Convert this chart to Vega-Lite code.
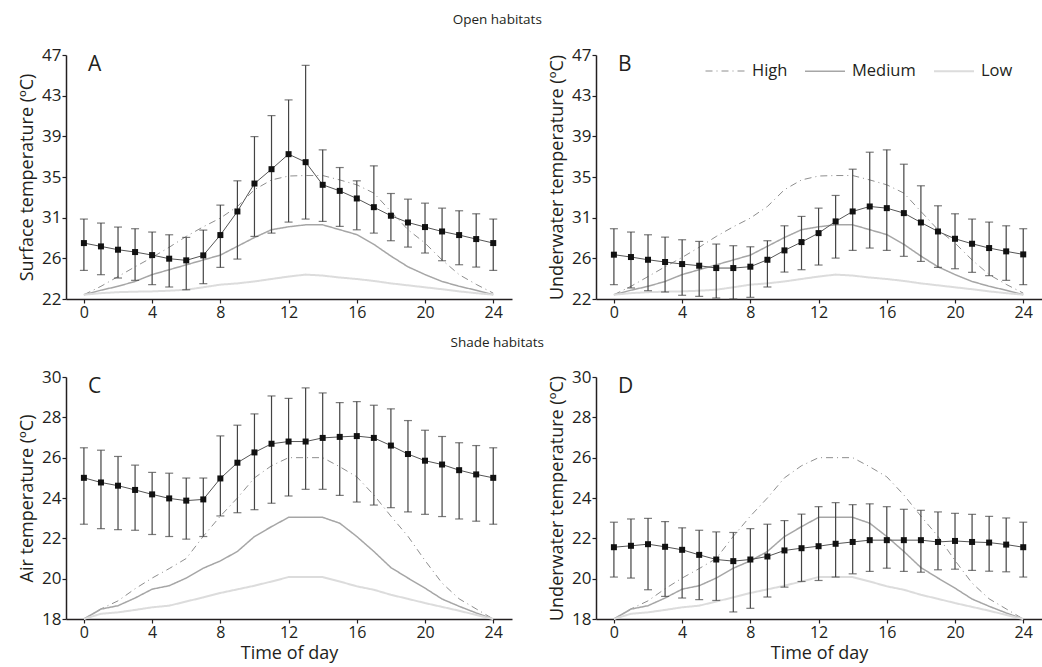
{
  "$schema": "https://vega.github.io/schema/vega-lite/v6.json",
  "autosize": {"type": "pad"},
  "padding": {"left": 18, "top": 12, "right": 1, "bottom": 5},
  "background": "white",
  "config": {
    "font": "Open Sans",
    "view": {"stroke": null},
    "axis": {"domainColor": "#231f20", "domainWidth": 1.5, "tickColor": "#231f20", "tickSize": 4, "tickWidth": 1.2, "labelColor": "#231f20", "labelFontSize": 17, "labelFont": "Open Sans", "titleColor": "#231f20", "titleFontSize": 18, "titleFont": "Open Sans", "titleFontWeight": "normal", "grid": false, "labelOverlap": false},
    "axisX": {"labelFontSize": 16, "labelOverlap": false, "labelSeparation": -40, "labelFlush": false},
    "title": {"font": "Open Sans", "fontWeight": "normal", "color": "#231f20"},
    "legend": {"labelFont": "Open Sans", "labelFontSize": 16.5, "labelColor": "#231f20"}
  },
  "datasets": {
    "ref_open": [
      {"series":"High","hour":0,"temp":22.44},{"series":"High","hour":1,"temp":23.3},{"series":"High","hour":2,"temp":24.3},{"series":"High","hour":3,"temp":25.3},{"series":"High","hour":4,"temp":26.26},{"series":"High","hour":5,"temp":27.3},{"series":"High","hour":6,"temp":28.41},{"series":"High","hour":7,"temp":29.4},{"series":"High","hour":8,"temp":30.29},{"series":"High","hour":9,"temp":31.48},{"series":"High","hour":10,"temp":33.2},{"series":"High","hour":11,"temp":34.2},{"series":"High","hour":12,"temp":34.6},{"series":"High","hour":13,"temp":34.65},{"series":"High","hour":14,"temp":34.65},{"series":"High","hour":15,"temp":34.2},{"series":"High","hour":16,"temp":33.7},{"series":"High","hour":17,"temp":32.85},{"series":"High","hour":18,"temp":30.97},{"series":"High","hour":19,"temp":29.1},{"series":"High","hour":20,"temp":27.73},{"series":"High","hour":21,"temp":26.0},{"series":"High","hour":22,"temp":24.5},{"series":"High","hour":23,"temp":23.5},{"series":"High","hour":24,"temp":22.6},
      {"series":"Medium","hour":0,"temp":22.44},{"series":"Medium","hour":1,"temp":22.9},{"series":"Medium","hour":2,"temp":23.3},{"series":"Medium","hour":3,"temp":23.8},{"series":"Medium","hour":4,"temp":24.5},{"series":"Medium","hour":5,"temp":25.0},{"series":"Medium","hour":6,"temp":25.5},{"series":"Medium","hour":7,"temp":26.0},{"series":"Medium","hour":8,"temp":26.5},{"series":"Medium","hour":9,"temp":27.4},{"series":"Medium","hour":10,"temp":28.3},{"series":"Medium","hour":11,"temp":29.1},{"series":"Medium","hour":12,"temp":29.4},{"series":"Medium","hour":13,"temp":29.6},{"series":"Medium","hour":14,"temp":29.6},{"series":"Medium","hour":15,"temp":29.1},{"series":"Medium","hour":16,"temp":28.6},{"series":"Medium","hour":17,"temp":27.6},{"series":"Medium","hour":18,"temp":26.4},{"series":"Medium","hour":19,"temp":25.3},{"series":"Medium","hour":20,"temp":24.5},{"series":"Medium","hour":21,"temp":23.8},{"series":"Medium","hour":22,"temp":23.3},{"series":"Medium","hour":23,"temp":22.9},{"series":"Medium","hour":24,"temp":22.44},
      {"series":"Low","hour":0,"temp":22.44},{"series":"Low","hour":1,"temp":22.6},{"series":"Low","hour":2,"temp":22.7},{"series":"Low","hour":3,"temp":22.75},{"series":"Low","hour":4,"temp":22.78},{"series":"Low","hour":5,"temp":22.85},{"series":"Low","hour":6,"temp":22.95},{"series":"Low","hour":7,"temp":23.2},{"series":"Low","hour":8,"temp":23.47},{"series":"Low","hour":9,"temp":23.6},{"series":"Low","hour":10,"temp":23.8},{"series":"Low","hour":11,"temp":24.05},{"series":"Low","hour":12,"temp":24.3},{"series":"Low","hour":13,"temp":24.5},{"series":"Low","hour":14,"temp":24.4},{"series":"Low","hour":15,"temp":24.2},{"series":"Low","hour":16,"temp":24.05},{"series":"Low","hour":17,"temp":23.85},{"series":"Low","hour":18,"temp":23.6},{"series":"Low","hour":19,"temp":23.4},{"series":"Low","hour":20,"temp":23.2},{"series":"Low","hour":21,"temp":23.0},{"series":"Low","hour":22,"temp":22.78},{"series":"Low","hour":23,"temp":22.6},{"series":"Low","hour":24,"temp":22.44}
    ],
    "ref_shade": [
      {"series":"High","hour":0,"temp":18.0},{"series":"High","hour":1,"temp":18.5},{"series":"High","hour":2,"temp":18.9},{"series":"High","hour":3,"temp":19.5},{"series":"High","hour":4,"temp":20.03},{"series":"High","hour":5,"temp":20.5},{"series":"High","hour":6,"temp":21.0},{"series":"High","hour":7,"temp":22.1},{"series":"High","hour":8,"temp":23.1},{"series":"High","hour":9,"temp":24.0},{"series":"High","hour":10,"temp":25.0},{"series":"High","hour":11,"temp":25.6},{"series":"High","hour":12,"temp":26.0},{"series":"High","hour":13,"temp":26.0},{"series":"High","hour":14,"temp":26.0},{"series":"High","hour":15,"temp":25.55},{"series":"High","hour":16,"temp":25.05},{"series":"High","hour":17,"temp":24.15},{"series":"High","hour":18,"temp":23.1},{"series":"High","hour":19,"temp":22.1},{"series":"High","hour":20,"temp":20.9},{"series":"High","hour":21,"temp":19.78},{"series":"High","hour":22,"temp":19.0},{"series":"High","hour":23,"temp":18.5},{"series":"High","hour":24,"temp":18.0},
      {"series":"Medium","hour":0,"temp":18.0},{"series":"Medium","hour":1,"temp":18.49},{"series":"Medium","hour":2,"temp":18.66},{"series":"Medium","hour":3,"temp":19.04},{"series":"Medium","hour":4,"temp":19.48},{"series":"Medium","hour":5,"temp":19.65},{"series":"Medium","hour":6,"temp":20.03},{"series":"Medium","hour":7,"temp":20.52},{"series":"Medium","hour":8,"temp":20.88},{"series":"Medium","hour":9,"temp":21.35},{"series":"Medium","hour":10,"temp":22.09},{"series":"Medium","hour":11,"temp":22.58},{"series":"Medium","hour":12,"temp":23.04},{"series":"Medium","hour":13,"temp":23.04},{"series":"Medium","hour":14,"temp":23.04},{"series":"Medium","hour":15,"temp":22.75},{"series":"Medium","hour":16,"temp":22.09},{"series":"Medium","hour":17,"temp":21.35},{"series":"Medium","hour":18,"temp":20.55},{"series":"Medium","hour":19,"temp":20.03},{"series":"Medium","hour":20,"temp":19.53},{"series":"Medium","hour":21,"temp":18.99},{"series":"Medium","hour":22,"temp":18.63},{"series":"Medium","hour":23,"temp":18.3},{"series":"Medium","hour":24,"temp":18.0},
      {"series":"Low","hour":0,"temp":18.0},{"series":"Low","hour":1,"temp":18.26},{"series":"Low","hour":2,"temp":18.33},{"series":"Low","hour":3,"temp":18.45},{"series":"Low","hour":4,"temp":18.58},{"series":"Low","hour":5,"temp":18.66},{"series":"Low","hour":6,"temp":18.87},{"series":"Low","hour":7,"temp":19.07},{"series":"Low","hour":8,"temp":19.29},{"series":"Low","hour":9,"temp":19.47},{"series":"Low","hour":10,"temp":19.65},{"series":"Low","hour":11,"temp":19.86},{"series":"Low","hour":12,"temp":20.08},{"series":"Low","hour":13,"temp":20.08},{"series":"Low","hour":14,"temp":20.08},{"series":"Low","hour":15,"temp":19.86},{"series":"Low","hour":16,"temp":19.62},{"series":"Low","hour":17,"temp":19.45},{"series":"Low","hour":18,"temp":19.2},{"series":"Low","hour":19,"temp":19.0},{"series":"Low","hour":20,"temp":18.79},{"series":"Low","hour":21,"temp":18.6},{"series":"Low","hour":22,"temp":18.41},{"series":"Low","hour":23,"temp":18.2},{"series":"Low","hour":24,"temp":18.0}
    ],
    "obs": [
      {"panel":"A","hour":0,"mean":27.73,"lo":24.93,"hi":30.19},{"panel":"A","hour":1,"mean":27.39,"lo":24.49,"hi":29.78},{"panel":"A","hour":2,"mean":27.05,"lo":24.15,"hi":29.37},{"panel":"A","hour":3,"mean":26.81,"lo":23.91,"hi":29.2},{"panel":"A","hour":4,"mean":26.5,"lo":23.47,"hi":28.86},{"panel":"A","hour":5,"mean":26.13,"lo":23.23,"hi":28.58},{"panel":"A","hour":6,"mean":25.96,"lo":22.95,"hi":28.31},{"panel":"A","hour":7,"mean":26.47,"lo":23.57,"hi":29.06},{"panel":"A","hour":8,"mean":28.55,"lo":25.24,"hi":31.62},{"panel":"A","hour":9,"mean":30.97,"lo":26.09,"hi":34.11},{"panel":"A","hour":10,"mean":33.83,"lo":28.41,"hi":38.64},{"panel":"A","hour":11,"mean":35.3,"lo":28.75,"hi":40.79},{"panel":"A","hour":12,"mean":36.84,"lo":29.88,"hi":42.4},{"panel":"A","hour":13,"mean":36.02,"lo":30.19,"hi":45.94},{"panel":"A","hour":14,"mean":33.7,"lo":29.95,"hi":37.28},{"panel":"A","hour":15,"mean":33.08,"lo":29.44,"hi":35.47},{"panel":"A","hour":16,"mean":32.3,"lo":29.09,"hi":34.11},{"panel":"A","hour":17,"mean":31.41,"lo":28.75,"hi":35.64},{"panel":"A","hour":18,"mean":30.53,"lo":27.97,"hi":32.81},{"panel":"A","hour":19,"mean":29.84,"lo":27.32,"hi":32.23},{"panel":"A","hour":20,"mean":29.37,"lo":26.71,"hi":31.82},{"panel":"A","hour":21,"mean":28.92,"lo":25.92,"hi":31.31},{"panel":"A","hour":22,"mean":28.55,"lo":25.51,"hi":31.04},{"panel":"A","hour":23,"mean":28.14,"lo":25.27,"hi":30.73},{"panel":"A","hour":24,"mean":27.73,"lo":24.93,"hi":30.19},
      {"panel":"B","hour":0,"mean":26.54,"lo":23.47,"hi":29.2},{"panel":"B","hour":1,"mean":26.3,"lo":23.13,"hi":28.86},{"panel":"B","hour":2,"mean":26.02,"lo":22.85,"hi":28.58},{"panel":"B","hour":3,"mean":25.79,"lo":22.72,"hi":28.34},{"panel":"B","hour":4,"mean":25.58,"lo":22.38,"hi":28.07},{"panel":"B","hour":5,"mean":25.41,"lo":22.27,"hi":27.9},{"panel":"B","hour":6,"mean":25.17,"lo":22.1,"hi":27.63},{"panel":"B","hour":7,"mean":25.17,"lo":22.0,"hi":27.46},{"panel":"B","hour":8,"mean":25.31,"lo":22.17,"hi":27.35},{"panel":"B","hour":9,"mean":26.02,"lo":23.23,"hi":27.97},{"panel":"B","hour":10,"mean":26.98,"lo":24.76,"hi":29.5},{"panel":"B","hour":11,"mean":27.83,"lo":25.0,"hi":30.46},{"panel":"B","hour":12,"mean":28.75,"lo":25.48,"hi":31.31},{"panel":"B","hour":13,"mean":29.95,"lo":26.19,"hi":32.61},{"panel":"B","hour":14,"mean":30.97,"lo":26.98,"hi":35.3},{"panel":"B","hour":15,"mean":31.48,"lo":27.22,"hi":37.04},{"panel":"B","hour":16,"mean":31.31,"lo":26.98,"hi":37.28},{"panel":"B","hour":17,"mean":30.8,"lo":26.37,"hi":35.81},{"panel":"B","hour":18,"mean":29.84,"lo":25.85,"hi":33.6},{"panel":"B","hour":19,"mean":28.92,"lo":25.24,"hi":31.55},{"panel":"B","hour":20,"mean":28.17,"lo":25.1,"hi":30.73},{"panel":"B","hour":21,"mean":27.66,"lo":24.73,"hi":30.19},{"panel":"B","hour":22,"mean":27.22,"lo":24.39,"hi":29.88},{"panel":"B","hour":23,"mean":26.88,"lo":23.91,"hi":29.5},{"panel":"B","hour":24,"mean":26.57,"lo":23.47,"hi":29.2},
      {"panel":"C","hour":0,"mean":25.0,"lo":22.7,"hi":26.49},{"panel":"C","hour":1,"mean":24.77,"lo":22.48,"hi":26.37},{"panel":"C","hour":2,"mean":24.61,"lo":22.43,"hi":26.06},{"panel":"C","hour":3,"mean":24.4,"lo":22.4,"hi":25.63},{"panel":"C","hour":4,"mean":24.18,"lo":22.19,"hi":25.27},{"panel":"C","hour":5,"mean":23.98,"lo":22.09,"hi":25.23},{"panel":"C","hour":6,"mean":23.87,"lo":21.96,"hi":24.99},{"panel":"C","hour":7,"mean":23.93,"lo":22.09,"hi":24.99},{"panel":"C","hour":8,"mean":24.97,"lo":23.11,"hi":27.08},{"panel":"C","hour":9,"mean":25.75,"lo":23.27,"hi":27.61},{"panel":"C","hour":10,"mean":26.26,"lo":23.42,"hi":28.17},{"panel":"C","hour":11,"mean":26.69,"lo":23.74,"hi":29.06},{"panel":"C","hour":12,"mean":26.8,"lo":24.1,"hi":28.94},{"panel":"C","hour":13,"mean":26.8,"lo":24.43,"hi":29.46},{"panel":"C","hour":14,"mean":26.98,"lo":24.43,"hi":29.21},{"panel":"C","hour":15,"mean":27.03,"lo":24.13,"hi":28.73},{"panel":"C","hour":16,"mean":27.07,"lo":23.8,"hi":28.78},{"panel":"C","hour":17,"mean":26.98,"lo":23.65,"hi":28.6},{"panel":"C","hour":18,"mean":26.6,"lo":23.52,"hi":28.42},{"panel":"C","hour":19,"mean":26.18,"lo":23.31,"hi":27.84},{"panel":"C","hour":20,"mean":25.85,"lo":23.19,"hi":27.36},{"panel":"C","hour":21,"mean":25.66,"lo":23.08,"hi":27.05},{"panel":"C","hour":22,"mean":25.38,"lo":22.96,"hi":26.74},{"panel":"C","hour":23,"mean":25.17,"lo":22.85,"hi":26.6},{"panel":"C","hour":24,"mean":25.0,"lo":22.7,"hi":26.49},
      {"panel":"D","hour":0,"mean":21.56,"lo":20.08,"hi":22.8},{"panel":"D","hour":1,"mean":21.63,"lo":20.03,"hi":22.96},{"panel":"D","hour":2,"mean":21.71,"lo":19.45,"hi":22.99},{"panel":"D","hour":3,"mean":21.58,"lo":19.12,"hi":22.83},{"panel":"D","hour":4,"mean":21.43,"lo":19.04,"hi":22.52},{"panel":"D","hour":5,"mean":21.18,"lo":18.96,"hi":22.4},{"panel":"D","hour":6,"mean":20.95,"lo":18.92,"hi":22.32},{"panel":"D","hour":7,"mean":20.87,"lo":18.35,"hi":22.29},{"panel":"D","hour":8,"mean":20.95,"lo":18.53,"hi":22.48},{"panel":"D","hour":9,"mean":21.1,"lo":19.09,"hi":22.7},{"panel":"D","hour":10,"mean":21.4,"lo":19.58,"hi":22.88},{"panel":"D","hour":11,"mean":21.51,"lo":19.86,"hi":23.2},{"panel":"D","hour":12,"mean":21.61,"lo":19.91,"hi":23.57},{"panel":"D","hour":13,"mean":21.73,"lo":20.08,"hi":23.77},{"panel":"D","hour":14,"mean":21.82,"lo":20.24,"hi":23.67},{"panel":"D","hour":15,"mean":21.91,"lo":20.36,"hi":23.71},{"panel":"D","hour":16,"mean":21.91,"lo":20.52,"hi":23.57},{"panel":"D","hour":17,"mean":21.91,"lo":20.36,"hi":23.44},{"panel":"D","hour":18,"mean":21.91,"lo":20.32,"hi":23.39},{"panel":"D","hour":19,"mean":21.82,"lo":20.44,"hi":23.31},{"panel":"D","hour":20,"mean":21.87,"lo":20.47,"hi":23.24},{"panel":"D","hour":21,"mean":21.82,"lo":20.41,"hi":23.19},{"panel":"D","hour":22,"mean":21.79,"lo":20.37,"hi":23.09},{"panel":"D","hour":23,"mean":21.69,"lo":20.34,"hi":23.01},{"panel":"D","hour":24,"mean":21.56,"lo":20.08,"hi":22.8}
    ]
  },
  "bounds": "full",
  "spacing": 15,
  "resolve": {"scale": {"color": "independent", "strokeDash": "independent", "strokeWidth": "independent"}, "legend": {"color": "independent", "strokeDash": "independent", "strokeWidth": "independent"}},
  "vconcat": [
    {
      "title": {"text": "Open habitats", "fontSize": 13.5, "anchor": "middle", "dx": -33, "offset": 20},
      "bounds": "flush",
      "spacing": 84,
      "resolve": {"scale": {"color": "independent", "strokeDash": "independent", "strokeWidth": "independent"}, "legend": {"color": "independent", "strokeDash": "independent", "strokeWidth": "independent"}},
      "hconcat": [
        {
          "width": 446, "height": 244,
          "title": {"text": "A", "fontSize": 21, "anchor": "start", "frame": "group", "dx": 22, "offset": 0, "dy": 46, "baseline": "alphabetic"},
          "layer": [
            {"data": {"name": "ref_open"}, "mark": {"type": "line"},
             "encoding": {
               "x": {"field": "hour", "type": "quantitative", "scale": {"domain": [-1.05, 25.1], "nice": false, "zero": false}, "axis": {"values": [0,2,4,6,8,10,12,14,16,18,20,22,24], "title": null, "labelPadding": 1, "labelOverlap": false, "labelSeparation": -40, "labelFlush": false, "labelFontSize": 16}},
               "y": {"field": "temp", "type": "quantitative", "scale": {"domain": [22, 47], "nice": false, "zero": false}, "axis": {"values": [22, 26.1667, 30.3333, 34.5, 38.6667, 42.8333, 47], "labelExpr": "datum.value < 24 ? '22' : datum.value < 28 ? '26' : datum.value < 32 ? '31' : datum.value < 36 ? '35' : datum.value < 40 ? '39' : datum.value < 45 ? '43' : '47'", "title": "Surface temperature (ºC)", "labelPadding": 1, "titlePadding": 5}},
               "color": {"field": "series", "type": "nominal", "scale": {"domain": ["High","Medium","Low"], "range": ["#8e8e8e","#a6a6a6","#dcdcdc"]}, "legend": null},
               "strokeDash": {"field": "series", "type": "nominal", "scale": {"domain": ["High","Medium","Low"], "range": [[7,4,1,4],[1,0],[1,0]]}, "legend": null},
               "strokeWidth": {"field": "series", "type": "ordinal", "scale": {"domain": ["High","Medium","Low"], "range": [1, 2, 4]}, "legend": null}
             }},
            {"data": {"name": "obs"}, "transform": [{"filter": "datum.panel === 'A'"}], "mark": {"type": "rule", "color": "#444444", "strokeWidth": 1.2}, "encoding": {"x": {"field": "hour", "type": "quantitative"}, "y": {"field": "lo", "type": "quantitative"}, "y2": {"field": "hi"}}},
            {"data": {"name": "obs"}, "transform": [{"filter": "datum.panel === 'A'"}], "mark": {"type": "tick", "orient": "horizontal", "color": "#444444", "size": 8, "thickness": 1.2}, "encoding": {"x": {"field": "hour", "type": "quantitative"}, "y": {"field": "lo", "type": "quantitative"}}},
            {"data": {"name": "obs"}, "transform": [{"filter": "datum.panel === 'A'"}], "mark": {"type": "tick", "orient": "horizontal", "color": "#444444", "size": 8, "thickness": 1.2}, "encoding": {"x": {"field": "hour", "type": "quantitative"}, "y": {"field": "hi", "type": "quantitative"}}},
            {"data": {"name": "obs"}, "transform": [{"filter": "datum.panel === 'A'"}], "mark": {"type": "line", "color": "#555555", "strokeWidth": 1}, "encoding": {"x": {"field": "hour", "type": "quantitative"}, "y": {"field": "mean", "type": "quantitative"}}},
            {"data": {"name": "obs"}, "transform": [{"filter": "datum.panel === 'A'"}], "mark": {"type": "square", "color": "#111111", "size": 36, "opacity": 1}, "encoding": {"x": {"field": "hour", "type": "quantitative"}, "y": {"field": "mean", "type": "quantitative"}}}
          ]
        },
        {
          "width": 446, "height": 244,
          "title": {"text": "B", "fontSize": 21, "anchor": "start", "frame": "group", "dx": 22, "offset": 0, "dy": 46, "baseline": "alphabetic"},
          "layer": [
            {"data": {"name": "ref_open"}, "mark": {"type": "line"},
             "encoding": {
               "x": {"field": "hour", "type": "quantitative", "scale": {"domain": [-1.05, 25.1], "nice": false, "zero": false}, "axis": {"values": [0,2,4,6,8,10,12,14,16,18,20,22,24], "title": null, "labelPadding": 1, "labelOverlap": false, "labelSeparation": -40, "labelFlush": false, "labelFontSize": 16}},
               "y": {"field": "temp", "type": "quantitative", "scale": {"domain": [22, 47], "nice": false, "zero": false}, "axis": {"values": [22, 26.1667, 30.3333, 34.5, 38.6667, 42.8333, 47], "labelExpr": "datum.value < 24 ? '22' : datum.value < 28 ? '26' : datum.value < 32 ? '31' : datum.value < 36 ? '35' : datum.value < 40 ? '39' : datum.value < 45 ? '43' : '47'", "title": "Underwater temperature (ºC)", "labelPadding": 1, "titlePadding": 5}},
               "color": {"field": "series", "type": "nominal", "scale": {"domain": ["High","Medium","Low"], "range": ["#8e8e8e","#a6a6a6","#dcdcdc"]}, "legend": {"title": null, "orient": "none", "legendX": 109, "legendY": -5, "direction": "horizontal", "symbolType": "stroke", "symbolSize": 1600, "labelOffset": 6, "columnPadding": 14, "padding": 0}},
               "strokeDash": {"field": "series", "type": "nominal", "scale": {"domain": ["High","Medium","Low"], "range": [[7,4,1,4],[1,0],[1,0]]}, "legend": {"title": null, "orient": "none", "legendX": 109, "legendY": -5, "direction": "horizontal", "symbolType": "stroke", "symbolSize": 1600, "labelOffset": 6, "columnPadding": 14, "padding": 0}},
               "strokeWidth": {"field": "series", "type": "ordinal", "scale": {"domain": ["High","Medium","Low"], "range": [1, 2, 4]}, "legend": {"title": null, "orient": "none", "legendX": 109, "legendY": -5, "direction": "horizontal", "symbolType": "stroke", "symbolSize": 1600, "labelOffset": 6, "columnPadding": 14, "padding": 0}}
             }},
            {"data": {"name": "obs"}, "transform": [{"filter": "datum.panel === 'B'"}], "mark": {"type": "rule", "color": "#444444", "strokeWidth": 1.2}, "encoding": {"x": {"field": "hour", "type": "quantitative"}, "y": {"field": "lo", "type": "quantitative"}, "y2": {"field": "hi"}}},
            {"data": {"name": "obs"}, "transform": [{"filter": "datum.panel === 'B'"}], "mark": {"type": "tick", "orient": "horizontal", "color": "#444444", "size": 8, "thickness": 1.2}, "encoding": {"x": {"field": "hour", "type": "quantitative"}, "y": {"field": "lo", "type": "quantitative"}}},
            {"data": {"name": "obs"}, "transform": [{"filter": "datum.panel === 'B'"}], "mark": {"type": "tick", "orient": "horizontal", "color": "#444444", "size": 8, "thickness": 1.2}, "encoding": {"x": {"field": "hour", "type": "quantitative"}, "y": {"field": "hi", "type": "quantitative"}}},
            {"data": {"name": "obs"}, "transform": [{"filter": "datum.panel === 'B'"}], "mark": {"type": "line", "color": "#555555", "strokeWidth": 1}, "encoding": {"x": {"field": "hour", "type": "quantitative"}, "y": {"field": "mean", "type": "quantitative"}}},
            {"data": {"name": "obs"}, "transform": [{"filter": "datum.panel === 'B'"}], "mark": {"type": "square", "color": "#111111", "size": 36, "opacity": 1}, "encoding": {"x": {"field": "hour", "type": "quantitative"}, "y": {"field": "mean", "type": "quantitative"}}}
          ]
        }
      ]
    },
    {
      "title": {"text": "Shade habitats", "fontSize": 13.5, "anchor": "middle", "dx": -33, "offset": 19},
      "bounds": "flush",
      "spacing": 84,
      "resolve": {"scale": {"color": "independent", "strokeDash": "independent", "strokeWidth": "independent"}, "legend": {"color": "independent", "strokeDash": "independent", "strokeWidth": "independent"}},
      "hconcat": [
        {
          "width": 446, "height": 242,
          "title": {"text": "C", "fontSize": 21, "anchor": "start", "frame": "group", "dx": 22, "offset": 0, "dy": 46, "baseline": "alphabetic"},
          "layer": [
            {"data": {"name": "ref_shade"}, "mark": {"type": "line"},
             "encoding": {
               "x": {"field": "hour", "type": "quantitative", "scale": {"domain": [-1.05, 25.1], "nice": false, "zero": false}, "axis": {"values": [0,2,4,6,8,10,12,14,16,18,20,22,24], "title": "Time of day", "labelPadding": 1, "titlePadding": 4, "labelOverlap": false, "labelSeparation": -40, "labelFlush": false, "labelFontSize": 16}},
               "y": {"field": "temp", "type": "quantitative", "scale": {"domain": [18, 30], "nice": false, "zero": false}, "axis": {"values": [18,20,22,24,26,28,30], "title": "Air temperature (ºC)", "labelPadding": 1, "titlePadding": 5}},
               "color": {"field": "series", "type": "nominal", "scale": {"domain": ["High","Medium","Low"], "range": ["#8e8e8e","#a6a6a6","#dcdcdc"]}, "legend": null},
               "strokeDash": {"field": "series", "type": "nominal", "scale": {"domain": ["High","Medium","Low"], "range": [[7,4,1,4],[1,0],[1,0]]}, "legend": null},
               "strokeWidth": {"field": "series", "type": "ordinal", "scale": {"domain": ["High","Medium","Low"], "range": [1, 2, 4]}, "legend": null}
             }},
            {"data": {"name": "obs"}, "transform": [{"filter": "datum.panel === 'C'"}], "mark": {"type": "rule", "color": "#444444", "strokeWidth": 1.2}, "encoding": {"x": {"field": "hour", "type": "quantitative"}, "y": {"field": "lo", "type": "quantitative"}, "y2": {"field": "hi"}}},
            {"data": {"name": "obs"}, "transform": [{"filter": "datum.panel === 'C'"}], "mark": {"type": "tick", "orient": "horizontal", "color": "#444444", "size": 8, "thickness": 1.2}, "encoding": {"x": {"field": "hour", "type": "quantitative"}, "y": {"field": "lo", "type": "quantitative"}}},
            {"data": {"name": "obs"}, "transform": [{"filter": "datum.panel === 'C'"}], "mark": {"type": "tick", "orient": "horizontal", "color": "#444444", "size": 8, "thickness": 1.2}, "encoding": {"x": {"field": "hour", "type": "quantitative"}, "y": {"field": "hi", "type": "quantitative"}}},
            {"data": {"name": "obs"}, "transform": [{"filter": "datum.panel === 'C'"}], "mark": {"type": "line", "color": "#555555", "strokeWidth": 1}, "encoding": {"x": {"field": "hour", "type": "quantitative"}, "y": {"field": "mean", "type": "quantitative"}}},
            {"data": {"name": "obs"}, "transform": [{"filter": "datum.panel === 'C'"}], "mark": {"type": "square", "color": "#111111", "size": 36, "opacity": 1}, "encoding": {"x": {"field": "hour", "type": "quantitative"}, "y": {"field": "mean", "type": "quantitative"}}}
          ]
        },
        {
          "width": 446, "height": 242,
          "title": {"text": "D", "fontSize": 21, "anchor": "start", "frame": "group", "dx": 22, "offset": 0, "dy": 46, "baseline": "alphabetic"},
          "layer": [
            {"data": {"name": "ref_shade"}, "mark": {"type": "line"},
             "encoding": {
               "x": {"field": "hour", "type": "quantitative", "scale": {"domain": [-1.05, 25.1], "nice": false, "zero": false}, "axis": {"values": [0,2,4,6,8,10,12,14,16,18,20,22,24], "title": "Time of day", "labelPadding": 1, "titlePadding": 4, "labelOverlap": false, "labelSeparation": -40, "labelFlush": false, "labelFontSize": 16}},
               "y": {"field": "temp", "type": "quantitative", "scale": {"domain": [18, 30], "nice": false, "zero": false}, "axis": {"values": [18,20,22,24,26,28,30], "title": "Underwater temperature (ºC)", "labelPadding": 1, "titlePadding": 5}},
               "color": {"field": "series", "type": "nominal", "scale": {"domain": ["High","Medium","Low"], "range": ["#8e8e8e","#a6a6a6","#dcdcdc"]}, "legend": null},
               "strokeDash": {"field": "series", "type": "nominal", "scale": {"domain": ["High","Medium","Low"], "range": [[7,4,1,4],[1,0],[1,0]]}, "legend": null},
               "strokeWidth": {"field": "series", "type": "ordinal", "scale": {"domain": ["High","Medium","Low"], "range": [1, 2, 4]}, "legend": null}
             }},
            {"data": {"name": "obs"}, "transform": [{"filter": "datum.panel === 'D'"}], "mark": {"type": "rule", "color": "#444444", "strokeWidth": 1.2}, "encoding": {"x": {"field": "hour", "type": "quantitative"}, "y": {"field": "lo", "type": "quantitative"}, "y2": {"field": "hi"}}},
            {"data": {"name": "obs"}, "transform": [{"filter": "datum.panel === 'D'"}], "mark": {"type": "tick", "orient": "horizontal", "color": "#444444", "size": 8, "thickness": 1.2}, "encoding": {"x": {"field": "hour", "type": "quantitative"}, "y": {"field": "lo", "type": "quantitative"}}},
            {"data": {"name": "obs"}, "transform": [{"filter": "datum.panel === 'D'"}], "mark": {"type": "tick", "orient": "horizontal", "color": "#444444", "size": 8, "thickness": 1.2}, "encoding": {"x": {"field": "hour", "type": "quantitative"}, "y": {"field": "hi", "type": "quantitative"}}},
            {"data": {"name": "obs"}, "transform": [{"filter": "datum.panel === 'D'"}], "mark": {"type": "line", "color": "#555555", "strokeWidth": 1}, "encoding": {"x": {"field": "hour", "type": "quantitative"}, "y": {"field": "mean", "type": "quantitative"}}},
            {"data": {"name": "obs"}, "transform": [{"filter": "datum.panel === 'D'"}], "mark": {"type": "square", "color": "#111111", "size": 36, "opacity": 1}, "encoding": {"x": {"field": "hour", "type": "quantitative"}, "y": {"field": "mean", "type": "quantitative"}}}
          ]
        }
      ]
    }
  ]
}
